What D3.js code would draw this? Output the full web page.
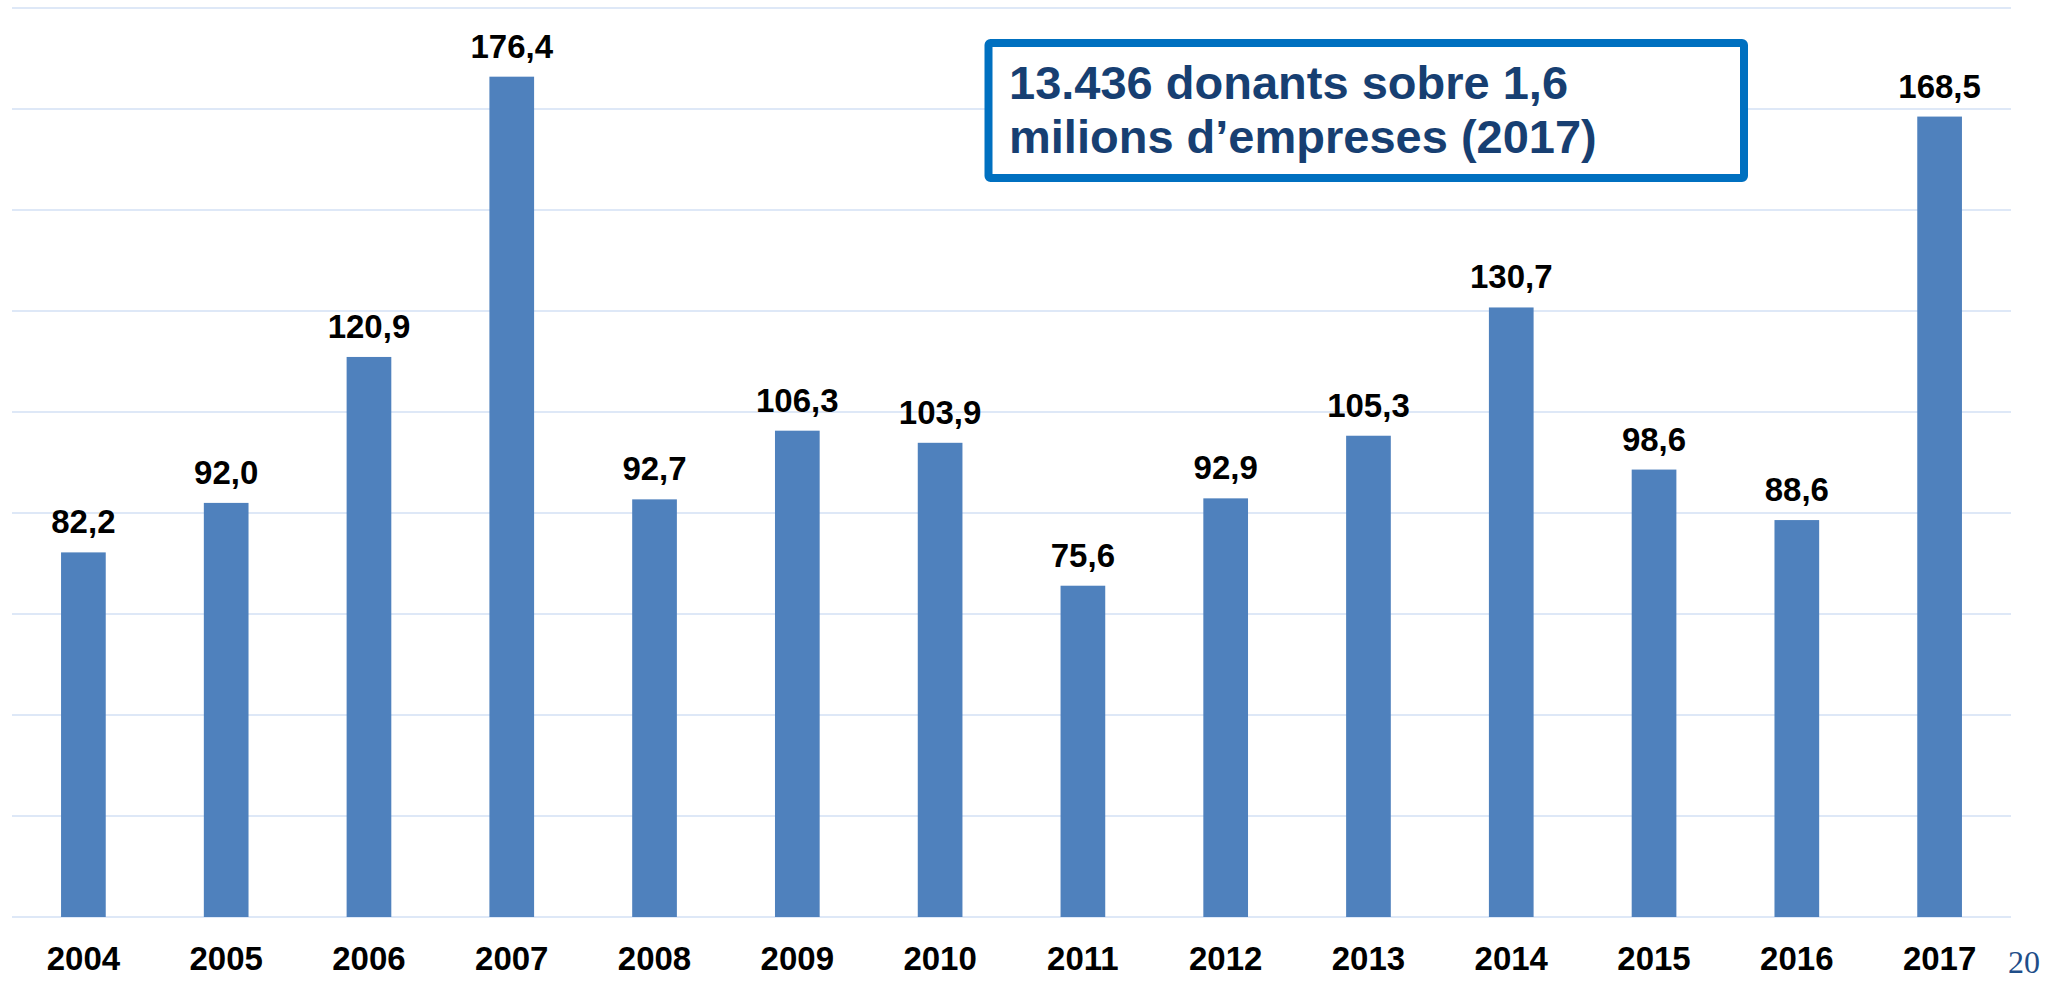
<!DOCTYPE html>
<html>
<head>
<meta charset="utf-8">
<script src="https://cdn.jsdelivr.net/npm/d3@7"></script>
<style>
  html, body { margin: 0; padding: 0; background: #fff; }
  #chart { width: 2064px; height: 982px; }
</style>
</head>
<body>
<div id="chart"></div>
<script>

// data
const years  = ['2004', '2005', '2006', '2007', '2008', '2009', '2010',
                '2011', '2012', '2013', '2014', '2015', '2016', '2017'];
const values = [82.2, 92.0, 120.9, 176.4, 92.7, 106.3, 103.9,
                75.6, 92.9, 105.3, 130.7, 98.6, 88.6, 168.5];
const gridTicks = [10, 30, 50, 70, 90, 110, 130, 150, 170, 190];
const noteLines = ['13.436 donants sobre 1,6', 'milions d\u2019empreses (2017)'];
const pageNumber = '20';


class BarChart {

  constructor(_parentContainer) {
    this.parentContainer = _parentContainer;
    this.initVis();
  }

  initVis() {
    this.widthTotal  = 2064;
    this.heightTotal = 982;

    this.svg = d3.select(this.parentContainer)
        .append('svg')
        .attr('width', this.widthTotal)
        .attr('height', this.heightTotal);

    // catalan number format: comma as decimal mark
    this.fmt = d3.formatLocale({ decimal: ',', thousands: '.', grouping: [3], currency: ['', '\u20ac'] })
        .format('.1f');

    this.createScales();
    this.addGrid();
    this.addBars();
    this.addNote();
  }

  createScales() {
    this.xScale = d3.scaleBand()
        .domain(years)
        .range([12, 2011])
        .paddingInner(0.687)
        .paddingOuter(0.3435);

    // the axis does not start at zero on the original
    this.yScale = d3.scaleLinear()
        .domain([10, 190])
        .range([917, 8]);
  }

  addGrid() {
    this.svg.append('g')
        .attr('class', 'grid')
      .selectAll('line')
      .data(gridTicks)
      .join('line')
        .attr('x1', 12)
        .attr('x2', 2011)
        .attr('y1', d => this.yScale(d))
        .attr('y2', d => this.yScale(d))
        .attr('stroke', '#d3e1f4')
        .attr('stroke-width', 1.5);

    // year labels under the baseline
    this.svg.append('g')
      .selectAll('text')
      .data(years)
      .join('text')
        .attr('x', d => this.xScale(d) + this.xScale.bandwidth() / 2)
        .attr('y', 970)
        .attr('text-anchor', 'middle')
        .style('font-family', '"Liberation Sans", Arial, sans-serif')
        .style('font-weight', 'bold')
        .style('font-size', '33px')
        .attr('fill', '#000')
        .text(d => d);
  }

  addBars() {
    const data = years.map((y, i) => ({ year: y, value: values[i] }));

    this.svg.append('g')
      .selectAll('rect')
      .data(data)
      .join('rect')
        .attr('x', d => this.xScale(d.year))
        .attr('width', this.xScale.bandwidth())
        .attr('y', d => this.yScale(d.value))
        .attr('height', d => this.yScale(10) - this.yScale(d.value))
        .attr('fill', '#4f81bd');

    this.svg.append('g')
      .selectAll('text')
      .data(data)
      .join('text')
        .attr('x', d => this.xScale(d.year) + this.xScale.bandwidth() / 2)
        .attr('y', d => this.yScale(d.value) - 19)
        .attr('text-anchor', 'middle')
        .style('font-family', '"Liberation Sans", Arial, sans-serif')
        .style('font-weight', 'bold')
        .style('font-size', '33px')
        .attr('fill', '#000')
        .text(d => this.fmt(d.value));
  }

  addNote() {
    const note = this.svg.append('g').attr('class', 'note');

    note.append('rect')
        .attr('x', 988.5)
        .attr('y', 43)
        .attr('width', 755.5)
        .attr('height', 135)
        .attr('rx', 2)
        .attr('fill', '#fff')
        .attr('stroke', '#0070c0')
        .attr('stroke-width', 8);

    note.selectAll('text')
      .data(noteLines)
      .join('text')
        .attr('x', 1009)
        .attr('y', (d, i) => 99 + i * 54)
        .style('font-family', '"Liberation Sans", Arial, sans-serif')
        .style('font-weight', 'bold')
        .style('font-size', '47px')
        .attr('fill', '#173f72')
        .text(d => d);

    // slide page number
    this.svg.append('text')
        .attr('x', 2024)
        .attr('y', 973)
        .attr('text-anchor', 'middle')
        .style('font-family', '"Liberation Serif", "DejaVu Serif", serif')
        .style('font-size', '32px')
        .attr('fill', '#1f4e89')
        .text(pageNumber);
  }
}

new BarChart('#chart');
</script>
</body>
</html>
